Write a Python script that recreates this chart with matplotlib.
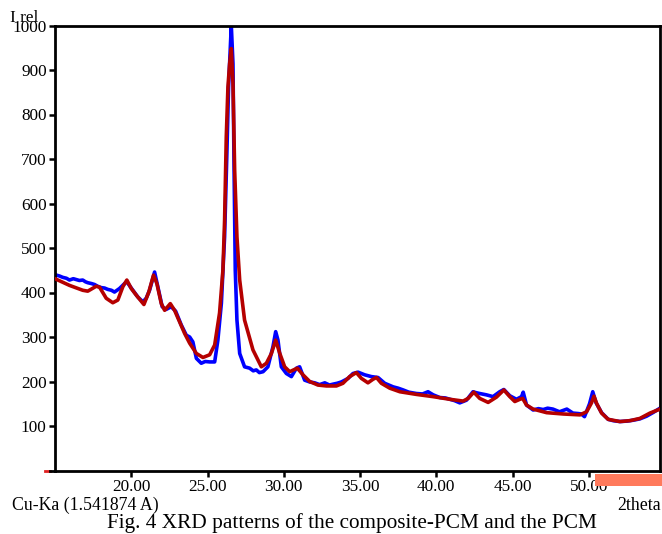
import matplotlib
matplotlib.use("Agg")
import matplotlib.pyplot as plt
from matplotlib.patches import Rectangle
from matplotlib.lines import Line2D

# ---- data (2theta, relative intensity) ----
red_2theta = [15.0, 15.95, 16.82, 17.15, 17.70, 17.92, 18.36, 18.79, 19.12, 19.45,
              19.71, 20.00, 20.33, 20.83, 21.15, 21.46, 21.68, 21.97, 22.19, 22.56,
              22.84, 23.17, 23.50, 23.83, 24.27, 24.70, 25.14, 25.47, 25.79, 26.01,
              26.12, 26.23, 26.34, 26.45, 26.56, 26.67, 26.78, 26.93, 27.11, 27.43,
              27.98, 28.53, 28.86, 29.19, 29.47, 29.73, 30.06, 30.39, 30.89, 31.26,
              31.70, 32.24, 32.80, 33.45, 33.88, 34.32, 34.76, 35.09, 35.52, 35.85,
              36.08, 36.40, 36.95, 37.61, 38.70, 39.79, 40.89, 41.76, 42.09, 42.46,
              42.85, 43.40, 43.95, 44.43, 44.82, 45.15, 45.48, 45.66, 45.92, 46.35,
              47.23, 48.32, 49.42, 49.86, 50.18, 50.34, 50.51, 50.84, 51.27, 52.04,
              52.70, 53.35, 54.01, 54.67]
red_intensity = [431, 416, 405, 403, 414, 412, 387, 377, 383, 413,
                 428, 409, 394, 373, 401, 439, 420, 375, 360, 375,
                 360, 334, 308, 286, 263, 254, 260, 282, 354, 450,
                 562, 749, 862, 914, 948, 870, 675, 525, 428, 338,
                 271, 233, 241, 263, 293, 264, 233, 222, 230, 215,
                 200, 192, 190, 190, 196, 211, 220, 207, 197, 205,
                 209, 196, 185, 177, 171, 166, 160, 156, 162, 176,
                 162, 153, 165, 181, 166, 155, 160, 162, 147, 138,
                 130, 127, 125, 132, 152, 167, 151, 129, 115, 110,
                 112, 117, 129, 138]

blue_2theta = [15.0, 15.30, 15.51, 15.75, 15.95, 16.20, 16.39, 16.60, 16.82, 17.00,
               17.15, 17.40, 17.59, 17.80, 18.03, 18.25, 18.46, 18.70, 18.90, 19.23,
               19.56, 19.71, 20.00, 20.43, 20.76, 20.98, 21.20, 21.53, 21.73, 22.03,
               22.29, 22.62, 22.91, 23.28, 23.61, 23.83, 24.04, 24.27, 24.59, 24.85,
               25.14, 25.47, 25.68, 25.91, 26.12, 26.27, 26.38, 26.50, 26.56, 26.67,
               26.73, 26.82, 26.93, 27.11, 27.43, 27.76, 28.00, 28.20, 28.40, 28.64,
               28.96, 29.29, 29.47, 29.62, 29.84, 30.17, 30.50, 30.83, 31.04, 31.37,
               31.70, 32.03, 32.35, 32.69, 33.00, 33.23, 33.50, 33.78, 34.22, 34.54,
               34.87, 35.31, 35.75, 36.18, 36.62, 37.17, 37.50, 37.83, 38.20, 38.70,
               39.10, 39.46, 39.80, 40.23, 40.60, 40.89, 41.20, 41.54, 41.98, 42.41,
               42.60, 42.85, 43.29, 43.72, 44.16, 44.43, 44.82, 45.26, 45.59, 45.70,
               45.92, 46.35, 46.70, 47.01, 47.30, 47.65, 48.08, 48.56, 48.96, 49.30,
               49.51, 49.72, 50.05, 50.26, 50.48, 50.84, 51.27, 51.60, 52.04, 52.50,
               52.91, 53.35, 53.79, 54.20, 54.67]
blue_intensity = [440, 437, 434, 432, 428, 431, 429, 427, 428, 424,
                  422, 420, 418, 414, 411, 410, 407, 405, 401, 409,
                  420, 424, 410, 390, 379, 387, 405, 446, 415, 368,
                  362, 368, 358, 327, 304, 300, 289, 252, 241, 245,
                  244, 244, 293, 376, 525, 713, 862, 951, 1000, 914,
                  713, 450, 338, 263, 233, 230, 224, 226, 220, 222,
                  233, 278, 312, 293, 233, 218, 211, 230, 233, 203,
                  199, 197, 193, 197, 192, 194, 196, 199, 207, 218,
                  221, 215, 211, 209, 196, 188, 185, 181, 176, 173,
                  172, 177, 170, 164, 163, 160, 157, 152, 158, 177,
                  175, 173, 170, 166, 177, 182, 168, 160, 166, 176,
                  147, 136, 139, 137, 140, 138, 132, 138, 129, 128,
                  127, 121, 150, 177, 152, 130, 115, 112, 110, 111,
                  113, 116, 122, 130, 140]

y_ticks = [100, 200, 300, 400, 500, 600, 700, 800, 900, 1000]
x_ticks = [20, 25, 30, 35, 40, 45, 50]
x_ticklabels = ["20.00", "25.00", "30.00", "35.00", "40.00", "45.00", "50.00"]

plt.rcParams['font.family'] = ['Liberation Serif', 'DejaVu Serif']

fig = plt.figure(figsize=(6.62, 5.34), dpi=100)
ax = fig.add_axes([55/662, 1 - 470.5/534, (660 - 55)/662, (470.5 - 25.5)/534])

ax.plot(blue_2theta, blue_intensity, color='#0000FF', lw=2.6, zorder=2)
ax.plot(red_2theta, red_intensity, color='#B50000', lw=2.6, zorder=3)

ax.set_xlim(15.0, 54.67)
ax.set_ylim(0, 1000)
ax.set_yticks(y_ticks)
ax.set_yticklabels([str(v) for v in y_ticks])
ax.set_xticks(x_ticks)
ax.set_xticklabels(x_ticklabels)
ax.tick_params(axis='both', direction='out', length=4, width=1.8, labelsize=12.4,
               colors='black', pad=2)
for s in ax.spines.values():
    s.set_linewidth(2.0)
    s.set_color('black')

# labels
fig.text(10/662, 1 - 22/534, "I rel", fontsize=12.4, ha='left', va='baseline')
fig.text(12/662, 1 - 510/534, "Cu-Ka (1.541874 A)", fontsize=12.8, ha='left', va='baseline')
fig.text(661/662, 1 - 510/534, "2theta", fontsize=12.8, ha='right', va='baseline')
fig.text(352/662, 1 - 528/534, "Fig. 4 XRD patterns of the composite-PCM and the PCM",
         fontsize=15.3, ha='center', va='baseline')

# small red mark at the left end of the baseline
fig.add_artist(Line2D([45/662, 50/662], [1 - 470.5/534, 1 - 470.5/534],
                      color='#E02020', lw=2.0))
fig.add_artist(Line2D([50/662, 55/662], [1 - 470.5/534, 1 - 470.5/534],
                      color='black', lw=2.0))
# salmon bar bottom right
fig.add_artist(Rectangle((595/662, 1 - 486/534), 67/662, 12/534,
                         facecolor='#FF7A5C', edgecolor='none', zorder=10))

fig.savefig("out.png", dpi=100)
